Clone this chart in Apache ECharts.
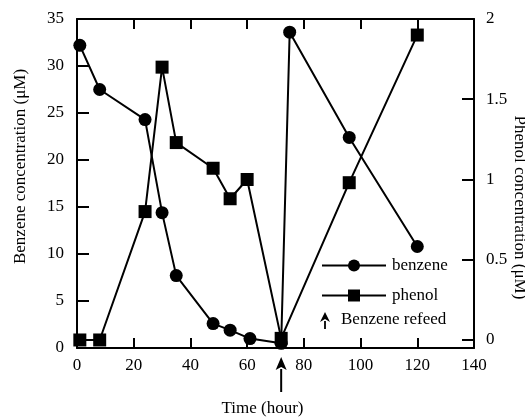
<!DOCTYPE html>
<html>
<head>
<meta charset="utf-8">
<script src="https://cdn.jsdelivr.net/npm/echarts@6/dist/echarts.min.js"></script>
<style>
  html, body { margin: 0; padding: 0; background: #fff; }
  #chart { width: 525px; height: 420px; }
</style>
</head>
<body>
<div id="chart"></div>
<script>
// Benzene (left axis, µM) and phenol (right axis, µM) over time in hours
const benzeneTime = [1, 8, 24, 30, 35, 48, 54, 61, 72, 75, 96, 120];
const benzeneConc = [32.2, 27.5, 24.3, 14.4, 7.7, 2.6, 1.9, 1.0, 0.5, 33.6, 22.4, 10.8];
const phenolTime = [1, 8, 24, 30, 35, 48, 54, 60, 72, 96, 120];
const phenolConc = [0, 0, 0.8, 1.7, 1.23, 1.07, 0.88, 1.0, 0.01, 0.98, 1.9];
// Time at which benzene was added again
const refeedTime = [72];

const phenolTicks = [0, 0.5, 1, 1.5, 2];

const FONT = 'Liberation Serif';
const INK = '#000';

const pairs = (xs, ys) => xs.map((x, i) => [x, ys[i]]);

const chart = echarts.init(document.getElementById('chart'), null, { renderer: 'canvas' });

const axisLine = { show: true, onZero: false, lineStyle: { color: INK, width: 2 } };

chart.setOption({
  backgroundColor: '#fff',
  animation: false,
  grid: { left: 77, right: 51, top: 19, bottom: 72, containLabel: false, outerBoundsMode: 'none' },
  legend: {
    data: ['benzene', 'phenol'],
    orient: 'vertical',
    left: 321,
    top: 257,
    padding: 0,
    itemWidth: 64,
    itemHeight: 15,
    itemGap: 13,
    textStyle: { fontFamily: FONT, fontSize: 17, color: INK, padding: [0, 0, 0, 1] },
    selectedMode: false
  },
  xAxis: [
    {
      type: 'value', position: 'bottom', min: 0, max: 140, interval: 20,
      axisLine: axisLine,
      axisTick: { show: true, inside: true, length: 10, lineStyle: { color: INK, width: 2 } },
      axisLabel: { fontFamily: FONT, fontSize: 17, color: INK, margin: 9 },
      splitLine: { show: false },
      name: 'Time (hour)', nameLocation: 'middle', nameGap: 52, nameMoveOverlap: false,
      nameTextStyle: { fontFamily: FONT, fontSize: 17, color: INK, padding: [0, 26, 0, 0] }
    },
    {
      type: 'value', position: 'top', min: 0, max: 140, interval: 20,
      axisLine: axisLine,
      axisTick: { show: true, inside: true, length: 10, lineStyle: { color: INK, width: 2 } },
      axisLabel: { show: false },
      splitLine: { show: false }
    }
  ],
  yAxis: [
    {
      type: 'value', position: 'left', min: 0, max: 35, interval: 5,
      axisLine: axisLine,
      axisTick: { show: true, inside: true, length: 12, lineStyle: { color: INK, width: 2 } },
      axisLabel: { fontFamily: FONT, fontSize: 17, color: INK, margin: 13 },
      splitLine: { show: false },
      name: 'Benzene concentration (\u03bcM)', nameLocation: 'middle', nameGap: 48, nameRotate: 90,
      nameMoveOverlap: false,
      nameTextStyle: { fontFamily: FONT, fontSize: 17, color: INK, padding: [0, 0, 0, 34] }
    },
    {
      type: 'value', position: 'right', min: -0.05, max: 2,
      axisLine: axisLine,
      axisTick: { show: true, inside: true, length: 12, customValues: phenolTicks,
        lineStyle: { color: INK, width: 2 } },
      axisLabel: { fontFamily: FONT, fontSize: 17, color: INK, margin: 12, customValues: phenolTicks },
      splitLine: { show: false },
      name: 'Phenol concentration (\u03bcM)', nameLocation: 'middle', nameGap: 37, nameRotate: -90,
      nameMoveOverlap: false,
      nameTextStyle: { fontFamily: FONT, fontSize: 17, color: INK, padding: [0, 0, 0, 48] }
    }
  ],
  series: [
    {
      name: 'benzene', type: 'line', xAxisIndex: 0, yAxisIndex: 0,
      data: pairs(benzeneTime, benzeneConc),
      symbol: 'circle', symbolSize: 13,
      lineStyle: { color: INK, width: 2 },
      itemStyle: { color: INK, borderWidth: 0 },
      z: 3
    },
    {
      name: 'phenol', type: 'line', xAxisIndex: 0, yAxisIndex: 1,
      data: pairs(phenolTime, phenolConc),
      symbol: 'rect', symbolSize: 13,
      lineStyle: { color: INK, width: 2 },
      itemStyle: { color: INK, borderWidth: 0 },
      z: 4
    }
  ]
});

// Upward arrow shape: shaft from (x, yTail) to the head whose tip sits at (x, yTip)
function upArrow(x, yTip, yTail, headW, headH, lineW) {
  return [
    { type: 'line', shape: { x1: x, y1: yTip + headH - 1, x2: x, y2: yTail },
      style: { stroke: INK, lineWidth: lineW }, silent: true },
    { type: 'polygon',
      shape: { points: [[x, yTip], [x - headW / 2, yTip + headH], [x, yTip + headH - 3], [x + headW / 2, yTip + headH]] },
      style: { fill: INK }, silent: true }
  ];
}

const graphics = [];
refeedTime.forEach(t => {
  const px = chart.convertToPixel({ xAxisIndex: 0 }, t);
  upArrow(px, 357, 392, 11, 13, 2).forEach(g => graphics.push(g));
});

// Third legend entry: arrow marker with its caption
upArrow(325, 312, 329, 10, 10, 1.8).forEach(g => graphics.push(g));
graphics.push({
  type: 'text', left: 341, top: 311, silent: true,
  style: { text: 'Benzene refeed', fontFamily: FONT, fontSize: 17, fill: INK }
});

chart.setOption({ graphic: graphics });
</script>
</body>
</html>
